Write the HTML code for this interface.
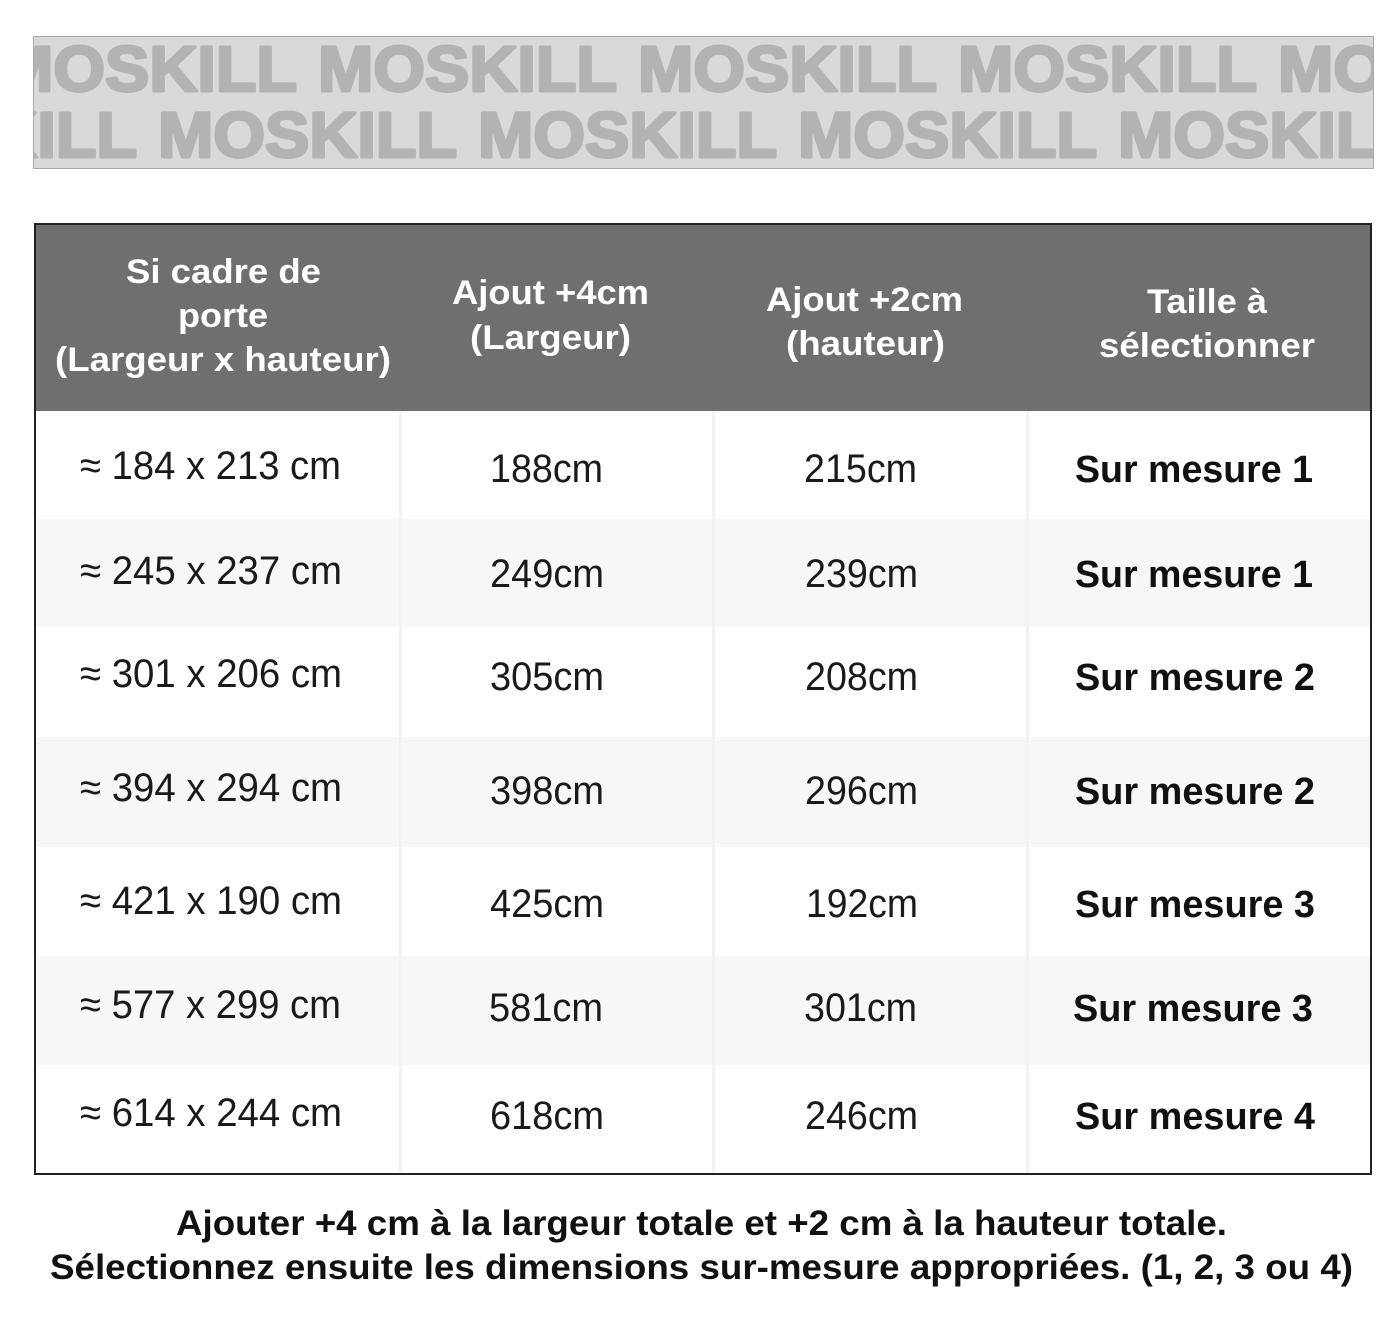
<!DOCTYPE html>
<html><head><meta charset="utf-8"><style>
html,body{margin:0;padding:0;background:#fff;}
svg{display:block;}
</style></head><body>
<svg width="1400" height="1323" viewBox="0 0 1400 1323" xmlns="http://www.w3.org/2000/svg" font-family="'Liberation Sans', sans-serif">
<defs><clipPath id="bc"><rect x="34" y="37" width="1339" height="131"/></clipPath></defs>
<rect x="33.5" y="36.5" width="1340" height="132" fill="#d9d9d9" stroke="#a8a8a8" stroke-width="1"/>
<g clip-path="url(#bc)" fill="#b3b3b3" stroke="#b3b3b3" stroke-width="3" stroke-linejoin="round" font-weight="bold" font-size="64">
<text x="-2" y="91" textLength="299" lengthAdjust="spacingAndGlyphs">MOSKILL</text>
<text x="318" y="91" textLength="299" lengthAdjust="spacingAndGlyphs">MOSKILL</text>
<text x="638" y="91" textLength="299" lengthAdjust="spacingAndGlyphs">MOSKILL</text>
<text x="958" y="91" textLength="299" lengthAdjust="spacingAndGlyphs">MOSKILL</text>
<text x="1278" y="91" textLength="299" lengthAdjust="spacingAndGlyphs">MOSKILL</text>
<text x="-162" y="157" textLength="299" lengthAdjust="spacingAndGlyphs">MOSKILL</text>
<text x="158" y="157" textLength="299" lengthAdjust="spacingAndGlyphs">MOSKILL</text>
<text x="478" y="157" textLength="299" lengthAdjust="spacingAndGlyphs">MOSKILL</text>
<text x="798" y="157" textLength="299" lengthAdjust="spacingAndGlyphs">MOSKILL</text>
<text x="1118" y="157" textLength="299" lengthAdjust="spacingAndGlyphs">MOSKILL</text>
</g>

<rect x="34" y="223" width="1338" height="952" fill="#fff"/>
<rect x="35" y="224" width="1336" height="187" fill="#6f6f6f"/>
<rect x="35" y="223" width="1336" height="1.5" fill="#a04040"/>
<g fill="#f7f7f7">
<rect x="36" y="519" width="1334" height="108"/>
<rect x="36" y="737" width="1334" height="110"/>
<rect x="36" y="956" width="1334" height="109"/>
</g>
<g fill="#f2f2f2">
<rect x="399" y="411" width="3" height="764"/>
<rect x="712" y="411" width="3" height="764"/>
<rect x="1026" y="411" width="3" height="764"/>
</g>
<rect x="35" y="224" width="1336" height="950" fill="none" stroke="#222" stroke-width="2"/>

<g fill="#fff" font-weight="bold" font-size="34">
<text x="126" y="283" textLength="195" lengthAdjust="spacingAndGlyphs">Si cadre de</text>
<text x="178" y="327" textLength="90" lengthAdjust="spacingAndGlyphs">porte</text>
<text x="55" y="371" textLength="336" lengthAdjust="spacingAndGlyphs">(Largeur x hauteur)</text>
<text x="452" y="304" textLength="197" lengthAdjust="spacingAndGlyphs">Ajout +4cm</text>
<text x="470" y="349" textLength="161" lengthAdjust="spacingAndGlyphs">(Largeur)</text>
<text x="766" y="311" textLength="197" lengthAdjust="spacingAndGlyphs">Ajout +2cm</text>
<text x="786" y="355" textLength="159" lengthAdjust="spacingAndGlyphs">(hauteur)</text>
<text x="1147" y="313" textLength="120" lengthAdjust="spacingAndGlyphs">Taille à</text>
<text x="1099" y="357" textLength="216" lengthAdjust="spacingAndGlyphs">sélectionner</text>
</g>

<g fill="#1a1a1a" font-size="40">
<text x="80" y="479" textLength="261" lengthAdjust="spacingAndGlyphs">≈ 184 x 213 cm</text>
<text x="490" y="482" textLength="113" lengthAdjust="spacingAndGlyphs">188cm</text>
<text x="804" y="482" textLength="113" lengthAdjust="spacingAndGlyphs">215cm</text>
<text x="80" y="584" textLength="262" lengthAdjust="spacingAndGlyphs">≈ 245 x 237 cm</text>
<text x="490" y="587" textLength="114" lengthAdjust="spacingAndGlyphs">249cm</text>
<text x="805" y="587" textLength="113" lengthAdjust="spacingAndGlyphs">239cm</text>
<text x="80" y="687" textLength="262" lengthAdjust="spacingAndGlyphs">≈ 301 x 206 cm</text>
<text x="490" y="690" textLength="114" lengthAdjust="spacingAndGlyphs">305cm</text>
<text x="805" y="690" textLength="113" lengthAdjust="spacingAndGlyphs">208cm</text>
<text x="80" y="801" textLength="262" lengthAdjust="spacingAndGlyphs">≈ 394 x 294 cm</text>
<text x="490" y="804" textLength="114" lengthAdjust="spacingAndGlyphs">398cm</text>
<text x="805" y="804" textLength="113" lengthAdjust="spacingAndGlyphs">296cm</text>
<text x="80" y="914" textLength="262" lengthAdjust="spacingAndGlyphs">≈ 421 x 190 cm</text>
<text x="490" y="917" textLength="114" lengthAdjust="spacingAndGlyphs">425cm</text>
<text x="806" y="917" textLength="112" lengthAdjust="spacingAndGlyphs">192cm</text>
<text x="80" y="1018" textLength="261" lengthAdjust="spacingAndGlyphs">≈ 577 x 299 cm</text>
<text x="489" y="1021" textLength="114" lengthAdjust="spacingAndGlyphs">581cm</text>
<text x="804" y="1021" textLength="113" lengthAdjust="spacingAndGlyphs">301cm</text>
<text x="80" y="1126" textLength="262" lengthAdjust="spacingAndGlyphs">≈ 614 x 244 cm</text>
<text x="490" y="1129" textLength="114" lengthAdjust="spacingAndGlyphs">618cm</text>
<text x="805" y="1129" textLength="113" lengthAdjust="spacingAndGlyphs">246cm</text>
</g>
<g fill="#111" font-weight="bold" font-size="38">
<text x="1075" y="482" textLength="238" lengthAdjust="spacingAndGlyphs">Sur mesure 1</text>
<text x="1075" y="587" textLength="238" lengthAdjust="spacingAndGlyphs">Sur mesure 1</text>
<text x="1075" y="690" textLength="240" lengthAdjust="spacingAndGlyphs">Sur mesure 2</text>
<text x="1075" y="804" textLength="240" lengthAdjust="spacingAndGlyphs">Sur mesure 2</text>
<text x="1075" y="917" textLength="240" lengthAdjust="spacingAndGlyphs">Sur mesure 3</text>
<text x="1073" y="1021" textLength="240" lengthAdjust="spacingAndGlyphs">Sur mesure 3</text>
<text x="1075" y="1129" textLength="240" lengthAdjust="spacingAndGlyphs">Sur mesure 4</text>
</g>

<g fill="#111" font-weight="bold" font-size="35">
<text x="176" y="1235" textLength="1051" lengthAdjust="spacingAndGlyphs">Ajouter +4 cm à la largeur totale et +2 cm à la hauteur totale.</text>
<text x="50" y="1279" textLength="1303" lengthAdjust="spacingAndGlyphs">Sélectionnez ensuite les dimensions sur-mesure appropriées. (1, 2, 3 ou 4)</text>
</g>
</svg>
</body></html>
